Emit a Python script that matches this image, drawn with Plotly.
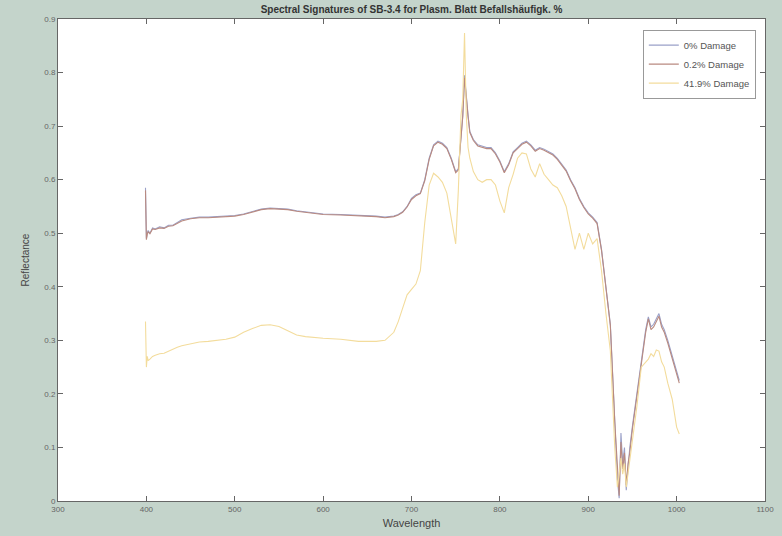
import plotly.graph_objects as go

wavelength = [399, 400, 401, 402, 404, 407, 410, 415, 420, 425, 430, 435, 440, 450, 460, 470, 480, 490,
              500, 510, 520, 530, 540, 550, 560, 570, 580, 590, 600, 620, 640, 660, 670, 680, 685, 690,
              695, 700, 705, 710, 715, 720, 725, 730, 735, 740, 745, 750, 753, 756, 758, 760, 762, 764,
              766, 770, 775, 780, 785, 790, 795, 800, 805, 810, 815, 820, 825, 830, 835, 840, 845, 850,
              855, 860, 865, 870, 875, 880, 885, 890, 895, 900, 905, 910, 915, 920, 925, 930, 933, 935,
              937, 939, 941, 943, 945, 947, 950, 955, 960, 965, 968, 971, 974, 977, 980, 983, 986, 990,
              995, 1000, 1003]

damage_0 = [0.585, 0.49, 0.50, 0.505, 0.50, 0.51, 0.508, 0.512, 0.51, 0.515, 0.515, 0.52, 0.525, 0.528,
            0.53, 0.53, 0.531, 0.532, 0.533, 0.536, 0.54, 0.545, 0.547, 0.546, 0.545, 0.542, 0.54, 0.538,
            0.536, 0.535, 0.534, 0.532, 0.53, 0.532, 0.535, 0.54, 0.55, 0.565, 0.572, 0.575, 0.60, 0.64,
            0.665, 0.672, 0.668, 0.66, 0.64, 0.615, 0.62, 0.68, 0.72, 0.795, 0.75, 0.72, 0.69, 0.675,
            0.665, 0.662, 0.66, 0.66, 0.65, 0.635, 0.615, 0.63, 0.652, 0.66, 0.668, 0.672, 0.665, 0.655,
            0.66, 0.657, 0.652, 0.648, 0.64, 0.63, 0.618, 0.60, 0.585, 0.565, 0.55, 0.538, 0.53, 0.52,
            0.47, 0.40, 0.33, 0.15, 0.04, 0.005, 0.127, 0.07, 0.10, 0.02, 0.06, 0.10, 0.14, 0.20, 0.27,
            0.32, 0.344, 0.325, 0.33, 0.34, 0.35, 0.33, 0.32, 0.30, 0.27, 0.24, 0.225]

damage_02 = [0.58, 0.488, 0.498, 0.503, 0.499, 0.508, 0.507, 0.51, 0.509, 0.513, 0.514, 0.518, 0.523, 0.527,
             0.529, 0.529, 0.53, 0.531, 0.532, 0.535, 0.539, 0.544, 0.546, 0.545, 0.544, 0.541, 0.539, 0.537,
             0.535, 0.534, 0.533, 0.531, 0.529, 0.531, 0.534, 0.539, 0.549, 0.563, 0.57, 0.574, 0.598, 0.638,
             0.663, 0.67, 0.666, 0.658, 0.638, 0.613, 0.618, 0.678, 0.718, 0.79, 0.748, 0.718, 0.688, 0.673,
             0.663, 0.66, 0.658, 0.658, 0.648, 0.633, 0.613, 0.628, 0.65, 0.658, 0.666, 0.67, 0.663, 0.653,
             0.658, 0.655, 0.65, 0.646, 0.638, 0.628, 0.616, 0.598, 0.583, 0.563, 0.548, 0.536, 0.528, 0.518,
             0.468, 0.398, 0.328, 0.148, 0.05, 0.01, 0.11, 0.06, 0.09, 0.03, 0.07, 0.09, 0.135, 0.195, 0.265,
             0.315, 0.34, 0.32, 0.325, 0.335, 0.345, 0.325, 0.315, 0.295, 0.265, 0.235, 0.22]

damage_419 = [0.335, 0.25, 0.27, 0.262, 0.265, 0.27, 0.272, 0.275, 0.276, 0.28, 0.283, 0.287, 0.29, 0.294,
              0.297, 0.298, 0.30, 0.302, 0.306, 0.315, 0.322, 0.328, 0.329, 0.326, 0.318, 0.31, 0.307, 0.305,
              0.304, 0.302, 0.298, 0.298, 0.30, 0.315, 0.335, 0.36, 0.385, 0.395, 0.405, 0.43, 0.52, 0.59,
              0.612, 0.605, 0.595, 0.575, 0.53, 0.48, 0.58, 0.72, 0.75, 0.874, 0.72, 0.66, 0.64, 0.615,
              0.60, 0.595, 0.60, 0.60, 0.59, 0.56, 0.538, 0.585, 0.61, 0.64, 0.65, 0.648, 0.62, 0.605,
              0.63, 0.61, 0.60, 0.59, 0.585, 0.57, 0.55, 0.51, 0.47, 0.50, 0.47, 0.50, 0.48, 0.49,
              0.43, 0.35, 0.28, 0.10, 0.026, 0.05, 0.08, 0.05, 0.07, 0.026, 0.05, 0.08, 0.12, 0.176, 0.25,
              0.26, 0.265, 0.275, 0.27, 0.282, 0.28, 0.26, 0.25, 0.22, 0.19, 0.138, 0.125]

series_names = ["0% Damage", "0.2% Damage", "41.9% Damage"]
x_ticks = [300, 400, 500, 600, 700, 800, 900, 1000, 1100]
y_ticks = [0, 0.1, 0.2, 0.3, 0.4, 0.5, 0.6, 0.7, 0.8, 0.9]

colors = ["#9aa0c8", "#b98a80", "#f3dc9c"]

fig = go.Figure()
for name, vals, col in zip(series_names, [damage_0, damage_02, damage_419], colors):
    fig.add_trace(go.Scatter(x=wavelength, y=vals, mode="lines", name=name,
                             line=dict(color=col, width=1.1)))

axis_common = dict(showgrid=False, zeroline=False, showline=True, linecolor="#666666", linewidth=1,
                   mirror="ticks", ticks="inside", ticklen=5, tickcolor="#666666", automargin=False,
                   tickfont=dict(family="Liberation Sans, Arial", size=8, color="#666666"))

fig.update_layout(
    width=782, height=536,
    paper_bgcolor="#c4d4cb", plot_bgcolor="white",
    margin=dict(l=58, r=17, t=19, b=35),
    title=dict(text="<b>Spectral Signatures of SB-3.4 for Plasm. Blatt Befallshäufigk. %</b>",
               x=0.5, xref="paper", xanchor="center", y=0.988, yanchor="top",
               font=dict(family="Liberation Sans, Arial", size=10, color="#333333")),
    xaxis=dict(range=[300, 1100], tickvals=x_ticks, ticktext=[str(t) for t in x_ticks],
               title=dict(text="Wavelength", standoff=6,
                          font=dict(family="Liberation Sans, Arial", size=11, color="#444444")),
               **axis_common),
    yaxis=dict(range=[0, 0.9], tickvals=y_ticks, ticktext=[("0" if t == 0 else f"{t:.1f}") for t in y_ticks],
               title=dict(text="Reflectance", standoff=12,
                          font=dict(family="Liberation Sans, Arial", size=10, color="#444444")),
               **axis_common),
    legend=dict(x=0.987, y=0.978, xanchor="right", yanchor="top", bgcolor="white",
                bordercolor="#999999", borderwidth=1, tracegroupgap=0,
                font=dict(family="Liberation Sans, Arial", size=9.5, color="#555555")),
    showlegend=True,
)

fig.write_html("out.html", config={"displayModeBar": False},
               post_script="document.body.style.margin='0';document.body.style.overflow='hidden';")
